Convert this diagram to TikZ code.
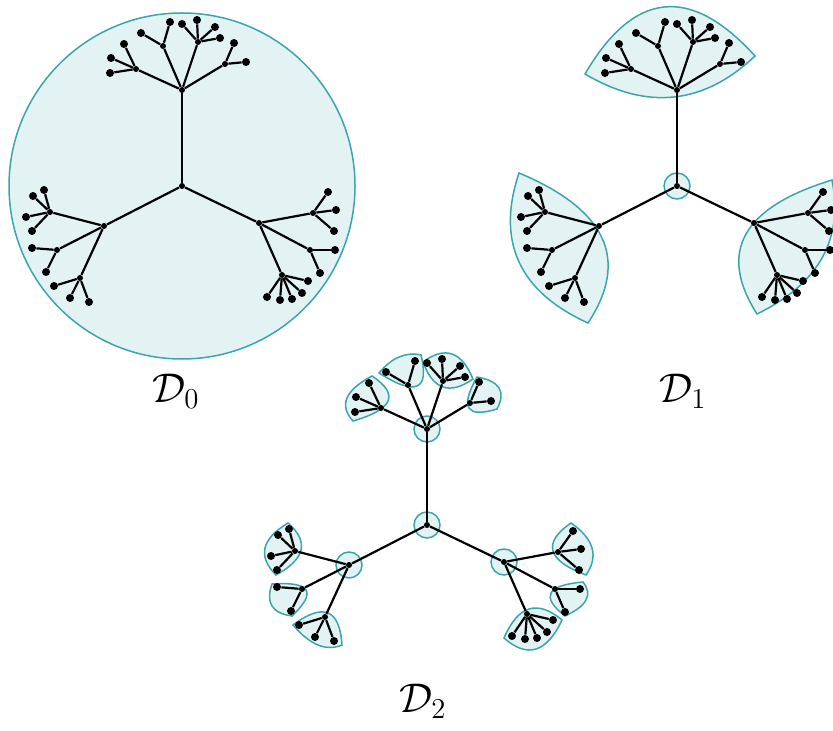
\documentclass[tikz,border=0pt]{standalone}
\usepackage{xcolor}
\definecolor{cTeal}{HTML}{3AA6AA}
\definecolor{cTealFill}{HTML}{E3F3F4}
\usepackage{tikz}
\usetikzlibrary{calc,backgrounds}
\tikzset{
  tree-edge/.style={line width=1.1pt},
  tree-inner/.style={circle,fill=black,inner sep=0pt,minimum size=3pt},
  tree-leaf/.style={circle,fill=black,inner sep=0pt,minimum size=4pt},
  region/.style={draw=cTeal,fill=cTealFill,line width=0.75pt},
  dlabel/.style={anchor=base,font=\huge,inner sep=0pt},
}
% one copy of the tree, #1 = prefix, #2 = root
\newcommand{\drawtree}[2]{%
  \begin{scope}[shift={(#2)}]
    \node[tree-inner] (#1-r) at (0,0) {};
    \foreach \n/\x/\y/\p in {t/0/-96/r, l/-78/40/r, g/77/37/r,
        t1/-46/-117/t, t2/-19/-140/t, t3/16/-144/t, t4/43/-122/t,
        l1/-132/26/l, l2/-125/64/l, l3/-102/92/l,
        g1/131/27/g, g2/128/64/g, g3/100/89/g}
      {\node[tree-inner] (#1-\n) at (\x,\y) {};
       \draw[tree-edge] (#1-\p) -- (#1-\n);}
    \foreach \n/\x/\y/\p in {t1a/-72/-113/t1, t1b/-71/-128/t1, t1c/-58/-142/t1,
        t2a/-41/-153/t2, t2b/-12/-164/t2,
        t3a/0/-162/t3, t3b/15/-166/t3, t3c/33/-159/t3, t3d/38/-148/t3,
        t4a/52/-143/t4, t4b/64/-124/t4,
        l1a/-138/4/l1, l1b/-149/10/l1, l1c/-156/31/l1, l1d/-150/45/l1,
        l2a/-150/62/l2, l2b/-136/86/l2,
        l3a/-128/100/l3, l3b/-112/112/l3, l3c/-93/116/l3,
        g1a/146/6/g1, g1b/154/24/g1, g1c/152/45/g1,
        g2a/153/64/g2, g2b/138/87/g2,
        g3a/126/95/g3, g3b/120/107/g3, g3c/110/113/g3, g3d/98/114/g3, g3e/85/111/g3}
      {\node[tree-leaf] (#1-\n) at (\x,\y) {};
       \draw[tree-edge] (#1-\p) -- (#1-\n);}
  \end{scope}}
% lens: tip, outer middle, tip, inner middle
\newcommand{\lens}[4]{%
  \filldraw[region] (#1)
    .. controls ($1.3333*(#2)-0.3333*(#3)$) and ($1.3333*(#2)-0.3333*(#1)$) .. (#3)
    .. controls ($1.3333*(#4)-0.3333*(#1)$) and ($1.3333*(#4)-0.3333*(#3)$) .. cycle;}

\begin{document}
\begin{tikzpicture}[x=0.5pt,y=-0.5pt]
  \useasboundingbox (0,0) rectangle (833,731);
  \drawtree{d0}{182,186}
  \drawtree{d1}{677,186}
  \drawtree{d2}{427,525}

  \begin{scope}[on background layer]
    \draw[region] (d0-r) circle[radius=86.5pt];
    % D1
    \draw[region] (d1-r) circle[radius=6.5pt];
    \lens{585,74}{664,7}{755,56}{674,97}
    \lens{519,173}{519,262}{588,323}{602,238}
    \lens{832,180}{822,258}{757,314}{746,234}
    % D2
    \foreach \n in {r,t,l,g}
      \draw[region] (d2-\n) circle[radius=6.5pt];
    \lens{372,376}{347,398}{353,421}{388,401}
    \lens{379,373}{399,357}{421,355}{417,386}
    \lens{423,362}{452,354}{473,379}{443,387}
    \lens{477,377}{499,388}{497,409}{469,408}
    \lens{288,523}{265,548}{276,575}{301,550}
    \lens{272,584}{272,606}{292,616}{306,590}
    \lens{293,625}{318,645}{342,645}{328,613}
    \lens{571,523}{592,548}{586,575}{553,551}
    \lens{583,582}{586,600}{565,616}{551,593}
    \lens{504,638}{536,649}{562,620}{529,609}
  \end{scope}

  \node[dlabel] (lbl0) at (176,402) {$\mathcal{D}_0$};
  \node[dlabel] (lbl1) at (683,402) {$\mathcal{D}_1$};
  \node[dlabel] (lbl2) at (423,712) {$\mathcal{D}_2$};
\end{tikzpicture}
\end{document}
